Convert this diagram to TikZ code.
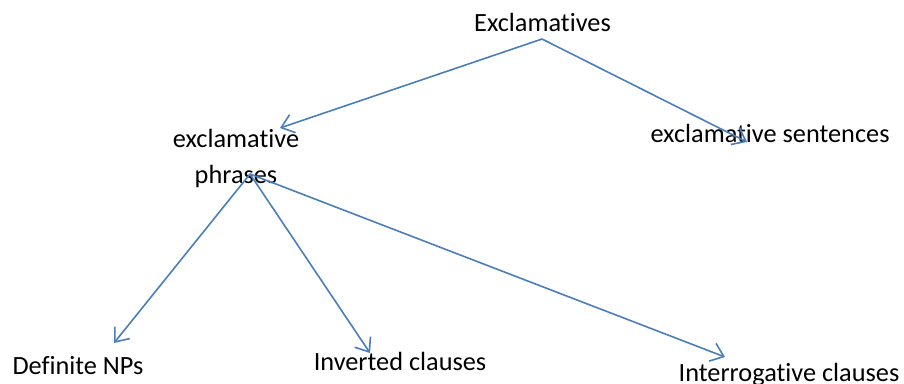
\documentclass[tikz,border=0pt]{standalone}
\usepackage{fontspec}
\setmainfont{Carlito}[Ligatures={NoCommon}]
\usetikzlibrary{arrows.meta}
\definecolor{lineblue}{HTML}{4A7EBB}
\tikzset{
  lbl/.style={anchor=base, inner sep=0pt, outer sep=0pt, font=\fontsize{26.3}{36}\selectfont, text=black},
  conn/.style={draw=lineblue, line width=1.6pt, -{Straight Barb[length=12pt, width=19pt, line width=1.6pt]}}
}
\begin{document}
\begin{tikzpicture}[x=1pt, y=-1pt]
\useasboundingbox (0,0) rectangle (904,383);
\node[lbl] (excl) at (542.5,31) {Exclamatives};
\node[lbl] (phr1) at (236,147) {exclamative};
\node[lbl] (phr2) at (236,183) {phrases};
\node[lbl] (sent) at (770,142) {exclamative sentences};
\node[lbl] (np) at (78,374) {Definite NPs};
\node[lbl] (inv) at (400,370) {Inverted clauses};
\node[lbl] (int) at (789,381) {Interrogative clauses};
\coordinate (top) at (542,39);
\coordinate (apex) at (250,174);
\coordinate (tphr) at (280,128);
\coordinate (tsent) at (747,142);
\coordinate (tnp) at (114,343);
\coordinate (tinv) at (370,353);
\coordinate (tint) at (725,357);
\draw[conn] (top) -- (tphr);
\draw[conn] (top) -- (tsent);
\draw[conn] (apex) -- (tnp);
\draw[conn] (apex) -- (tinv);
\draw[conn] (apex) -- (tint);
\end{tikzpicture}
\end{document}
